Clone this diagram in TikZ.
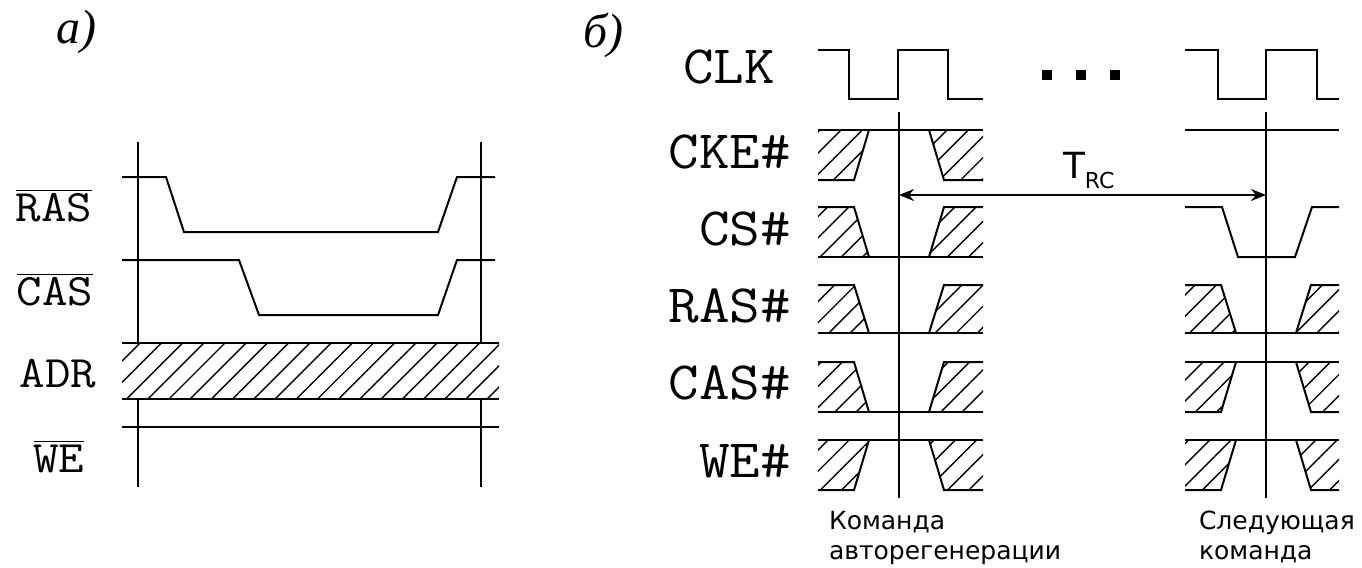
\documentclass[tikz,border=0pt]{standalone}
\usepackage{fontspec}
\setmainfont{Liberation Serif}
\newfontfamily\sigfont{Latin Modern Mono}[FakeStretch=1.1]
\newfontfamily\notefont{DejaVu Sans}
\usepackage{tikz}
\usetikzlibrary{arrows.meta}
\usetikzlibrary{patterns.meta}

\tikzset{
  sig/.style={inner sep=0pt, anchor=base, font=\sigfont\fontsize{22.5}{24}\selectfont},
  sigb/.style={inner sep=0pt, anchor=base east, font=\sigfont\fontsize{27}{28}\selectfont},
  note/.style={inner sep=0pt, anchor=north west, align=left, font=\notefont\fontsize{12.5}{15}\selectfont},
  part/.style={inner sep=0pt, anchor=base west, font=\itshape\fontsize{24}{26}\selectfont},
  hatch/.style={pattern={Lines[angle=45,distance=7.5pt,line width=0.7pt]}},
  trctip/.style={{Stealth[length=7.5pt,width=6pt]}-{Stealth[length=7.5pt,width=6pt]}}
}

\begin{document}
\begin{tikzpicture}[x=0.5pt,y=-0.5pt,line width=1pt]
  \useasboundingbox (0,0) rectangle (1362,568);

  % a)
  \node [part] (pa) at (55,43) {а)};
  \node [sig] (ras) at (54,221) {$\overline{\mbox{RAS}}$};
  \node [sig] (cas) at (55,305) {$\overline{\mbox{CAS}}$};
  \node [sig] (adr) at (58,387) {ADR};
  \node [sig] (we) at (59,472) {$\overline{\mbox{WE}}$};
  \fill [hatch] (122,343) rectangle (499,399);
  \draw [-] (122,343) -- (499,343);
  \draw [-] (122,399) -- (499,399);
  \draw [-] (138,142) -- (138,343);
  \draw [-] (138,399) -- (138,487);
  \draw [-] (481,142) -- (481,343);
  \draw [-] (481,399) -- (481,487);
  \draw [-] (122,177) -- (166,177) -- (184,232) -- (438,232) -- (457,177) -- (495,177);
  \draw [-] (122,260) -- (239,260) -- (259,315) -- (438,315) -- (457,260) -- (495,260);
  \draw [-] (122,427) -- (499,427);

  % b)
  \node [part] (pb) at (582,47) {б)};
  \node [sigb] (clk) at (776,83) {CLK};
  \node [sigb] (cke) at (792,168) {CKE\#};
  \node [sigb] (cs) at (792,245) {CS\#};
  \node [sigb] (rasb) at (792,322) {RAS\#};
  \node [sigb] (casb) at (792,399) {CAS\#};
  \node [sigb] (web) at (792,477) {WE\#};

  \draw [-] (818,50) -- (849,50) -- (849,99) -- (898,99) -- (898,50) -- (948,50) -- (948,99) -- (983,99);
  \draw [-] (1185,50) -- (1218,50) -- (1218,99) -- (1266,99) -- (1266,50) -- (1317,50) -- (1317,99) -- (1339,99);
  \foreach \x in {1047,1081,1115}
    \fill (\x-5,70) rectangle (\x+5,80);

  \coordinate (cmdl) at (899,112);
  \coordinate (cmdr) at (1266,112);
  \draw [-] (cmdl) -- (899,498);
  \draw [-] (cmdr) -- (1266,498);

  % high between
  \foreach \c/\s/\e/\t/\b in {899/818/983/130/180, 899/818/983/440/490, 1266/1185/1339/362/412, 1266/1185/1339/440/490} {
    \fill [hatch] (\s,\t) -- ({\c-30},\t) -- ({\c-45},\b) -- (\s,\b) -- cycle;
    \fill [hatch] ({\c+30},\t) -- (\e,\t) -- (\e,\b) -- ({\c+45},\b) -- cycle;
    \draw [-] (\s,\t) -- (\e,\t);
    \draw [-] (\s,\b) -- ({\c-45},\b) -- ({\c-30},\t);
    \draw [-] ({\c+30},\t) -- ({\c+45},\b) -- (\e,\b);
  }
  % low between
  \foreach \c/\s/\e/\t/\b in {899/818/983/207/257, 899/818/983/285/333, 899/818/983/362/412, 1266/1185/1339/285/333} {
    \fill [hatch] (\s,\t) -- ({\c-45},\t) -- ({\c-30},\b) -- (\s,\b) -- cycle;
    \fill [hatch] ({\c+45},\t) -- (\e,\t) -- (\e,\b) -- ({\c+30},\b) -- cycle;
    \draw [-] (\s,\b) -- (\e,\b);
    \draw [-] (\s,\t) -- ({\c-45},\t) -- ({\c-30},\b);
    \draw [-] ({\c+30},\b) -- ({\c+45},\t) -- (\e,\t);
  }
  \draw [-] (1185,130) -- (1339,130);
  \draw [-] (1185,207) -- (1222,207) -- (1238,257) -- (1295,257) -- (1312,207) -- (1339,207);

  \coordinate (trcl) at (899,195);
  \coordinate (trcr) at (1266,195);
  \draw [trctip] (trcl) -- (trcr);
  \node [anchor=base west, inner sep=0pt, font=\notefont\fontsize{18}{20}\selectfont] (trc) at (1062,178) {T\raisebox{-5pt}{\fontsize{11}{12}\selectfont RC}};

  \node [note] (cmd1) at (828,510) {Команда\\авторегенерации};
  \node [note] (cmd2) at (1198,510) {Следующая\\команда};
\end{tikzpicture}
\end{document}
